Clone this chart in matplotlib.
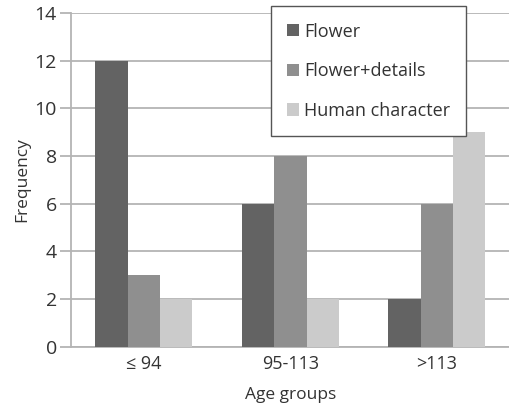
import matplotlib
matplotlib.use('Agg')
import matplotlib.pyplot as plt
import numpy as np

# Data
groups = ['≤ 94', '95-113', '>113']
series = ['Flower', 'Flower+details', 'Human character']
flower = [12, 6, 2]
flower_details = [3, 8, 6]
human_character = [2, 2, 9]
colors = ['#636363', '#8f8f8f', '#cbcbcb']

plt.rcParams['font.family'] = ['Open Sans', 'DejaVu Sans']

fig = plt.figure(figsize=(5.1, 4.11), dpi=100)
ax = fig.add_axes([0.1386, 0.1565, 0.8614, 0.812])

x = np.arange(len(groups))
width = 0.221
for i, (vals, name) in enumerate(zip([flower, flower_details, human_character], series)):
    ax.bar(x + (i - 1) * width, vals, width, color=colors[i], label=name, zorder=3)

ax.set_xlim(-0.5, 2.5)
ax.set_ylim(0, 14)
ax.set_yticks(range(0, 15, 2))
ax.set_xticks(x)
ax.set_xticklabels(groups)
ax.grid(axis='y', color='#b4b4b4', linewidth=1.3, zorder=0)

for s in ['top', 'right']:
    ax.spines[s].set_visible(False)
for s in ['left', 'bottom']:
    ax.spines[s].set_color('#b4b4b4')
    ax.spines[s].set_linewidth(1.3)
ax.tick_params(axis='y', length=8, width=1.3, color='#b4b4b4', labelsize=14, pad=2,
               labelcolor='#333333')
ax.tick_params(axis='x', length=0, labelsize=13, pad=6, labelcolor='#333333')

ax.set_ylabel('Frequency', fontsize=12.5, color='#333333', labelpad=3)
ax.set_xlabel('Age groups', fontsize=12.5, color='#333333', labelpad=10)

leg = ax.legend(loc='upper left', bbox_to_anchor=(0.455, 1.02), fontsize=13,
                frameon=True, fancybox=False, edgecolor='#555555', framealpha=1,
                handlelength=0.65, handleheight=0.65, handletextpad=0.3,
                labelspacing=1.2, borderpad=0.9, borderaxespad=0)
leg.get_frame().set_linewidth(1.0)
for t in leg.get_texts():
    t.set_color('#333333')

fig.savefig('out.png', dpi=100)
plt.close(fig)
